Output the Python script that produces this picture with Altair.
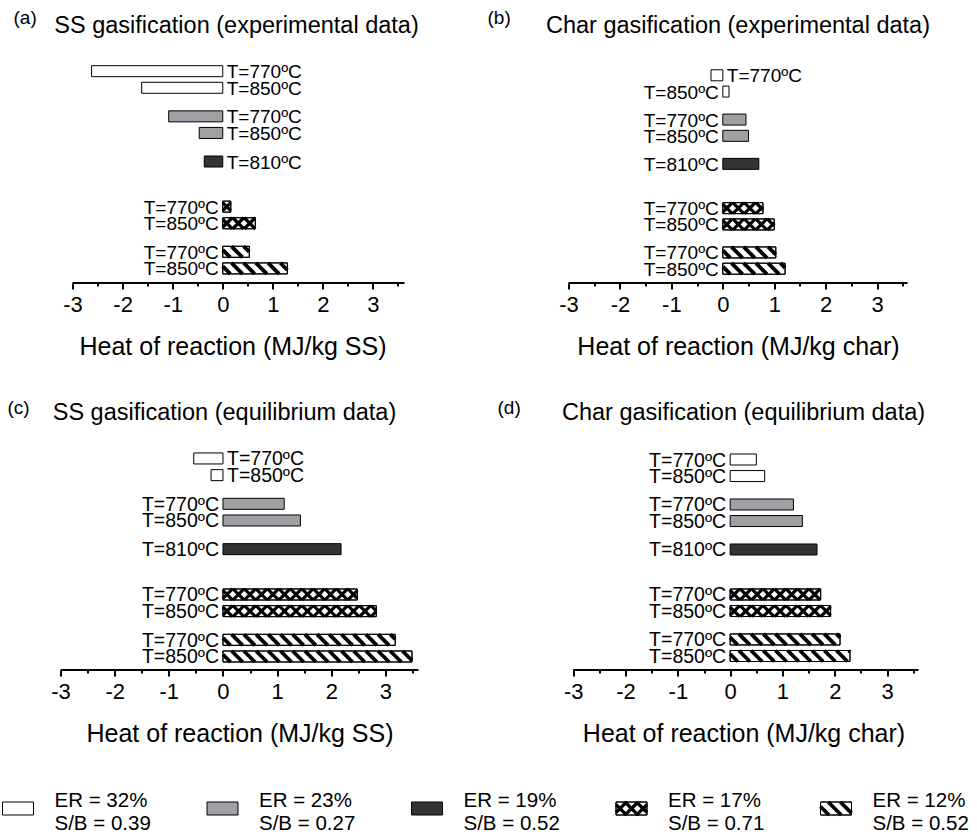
import math
import altair as alt
import pandas as pd

FONT = "Liberation Sans"

# ---------------- data ----------------
GROUPS = ["ER32", "ER23", "ER19", "ER17", "ER12"]
BAR_GROUP = ["ER32", "ER32", "ER23", "ER23", "ER19", "ER17", "ER17", "ER12", "ER12"]
BAR_TEMP = [770, 850, 770, 850, 810, 770, 850, 770, 850]

VAL_A = [-2.62, -1.62, -1.08, -0.47, -0.37, 0.16, 0.65, 0.53, 1.29]
VAL_B = [-0.23, 0.12, 0.45, 0.50, 0.70, 0.78, 1.00, 1.03, 1.21]
VAL_C = [-0.54, -0.22, 1.13, 1.43, 2.18, 2.48, 2.83, 3.18, 3.49]
VAL_D = [0.50, 0.66, 1.21, 1.38, 1.66, 1.73, 1.92, 2.10, 2.29]

TICKS = [-3, -2.5, -2, -1.5, -1, -0.5, 0, 0.5, 1, 1.5, 2, 2.5, 3, 3.5]

LEG_ER = ["32%", "23%", "19%", "17%", "12%"]
LEG_SB = ["0.39", "0.27", "0.52", "0.71", "0.52"]

# ---------------- styles / layout ----------------
FILL = ["#ffffff", "#a0a0a4", "#333333", "#ffffff", "#ffffff"]
PATTERN = {
    "ER17": dict(dirs=(1, -1), period=11.5, phase=4.0, w=3.2),
    "ER12": dict(dirs=(1,), period=12.2, phase=2.0, w=3.8),
}
H = 255
BAR_H = 11

# row positions (top = 0)
rows = []
r = 0.0
prev = None
for g in BAR_GROUP:
    if prev is None:
        r = 0.0
    elif g == prev:
        r += 1.0
    else:
        r += 1.72 + (1.0 if g == "ER17" else 0.0)
    rows.append(r)
    prev = g

PANELS = [
    dict(tag="(a)", title="SS gasification (experimental data)", unit="MJ/kg SS", vals=VAL_A,
         xdom=[-3.241, 3.63], ydom=[-2.602, 12.759], width=344, tag_x=-47, tag_y=-4, tdx=4, lfs=19),
    dict(tag="(b)", title="Char gasification (experimental data)", unit="MJ/kg char", vals=VAL_B,
         xdom=[-3.0, 3.59], ydom=[-2.905, 12.758], width=339, tag_x=-81, tag_y=-4, tdx=0, lfs=19),
    dict(tag="(c)", title="SS gasification (equilibrium data)", unit="MJ/kg SS", vals=VAL_C,
         xdom=[-3.0, 3.61], ydom=[-2.607, 12.69], width=358, tag_x=-53, tag_y=-1, tdx=-15, lfs=19.5),
    dict(tag="(d)", title="Char gasification (equilibrium data)", unit="MJ/kg char", vals=VAL_D,
         xdom=[-3.09, 3.60], ydom=[-2.691, 12.726], width=350, tag_x=-71, tag_y=-1, tdx=0, lfs=19.5),
]


def hatch_segments(L, h, period, phase, dirs):
    segs = []
    kmax = int((L + h) / period) + 3
    for d in dirs:
        for k in range(-3, kmax):
            c = phase + k * period
            if d > 0:
                lo, hi = max(-h / 2, -c), min(h / 2, L - c)
            else:
                lo, hi = max(-h / 2, c - L), min(h / 2, c)
            if hi - lo > 0.4:
                segs.append((d * lo + c, lo, d * hi + c, hi))
    return segs


def pattern_rows(group, x0, length_px, ppu, y0, ppr, h, sign=1.0):
    spec = PATTERN[group]
    out = []
    for (xa, ya, xb, yb) in hatch_segments(length_px, h, spec["period"], spec["phase"], spec["dirs"]):
        out.append({
            "x": x0 + sign * xa / ppu, "x2": x0 + sign * xb / ppu,
            "y": y0 + ya / ppr, "y2": y0 + yb / ppr, "w": spec["w"],
        })
    return out


fill_scale = alt.Scale(domain=GROUPS, range=FILL)


def make_panel(p):
    W = p["width"]
    xs = alt.Scale(domain=p["xdom"], nice=False, zero=False, padding=0)
    ys = alt.Scale(domain=p["ydom"], nice=False, zero=False, reverse=True, padding=0)
    ppu = W / (p["xdom"][1] - p["xdom"][0])
    ppr = H / (p["ydom"][1] - p["ydom"][0])

    ax = alt.Axis(
        values=TICKS,
        labelExpr="datum.value % 1 === 0 ? '' + datum.value : ''",
        tickSize={"condition": {"test": "datum.value % 1 !== 0", "value": 3}, "value": 6},
        tickWidth=2, tickColor="black", domain=False, grid=False,
        labelFont=FONT, labelFontSize=22, labelColor="black", labelPadding=5,
        labelOverlap=False, labelFlush=False,
        title="Heat of reaction (%s)" % p["unit"], titleFont=FONT, titleFontSize=25,
        titleFontWeight="normal", titleColor="black", titlePadding=19,
    )

    def X(f):
        return alt.X(f, type="quantitative", scale=xs, axis=ax)

    def Y(f):
        return alt.Y(f, type="quantitative", scale=ys, axis=None)

    df = pd.DataFrame({
        "row": rows, "value": p["vals"], "group": BAR_GROUP,
        "label": ["T=%d\u00baC" % t for t in BAR_TEMP],
    })
    df["zero"] = 0.0

    pats = []
    for rr, v, g in zip(rows, p["vals"], BAR_GROUP):
        if g in PATTERN:
            pats += pattern_rows(g, 0.0, abs(v) * ppu, ppu, rr, ppr, BAR_H, 1.0 if v >= 0 else -1.0)
    dpat = pd.DataFrame(pats)

    bars = alt.Chart(df).mark_bar(size=BAR_H, stroke="black", strokeWidth=1).encode(
        x=X("value"), x2="zero", y=Y("row"),
        fill=alt.Fill("group:N", scale=fill_scale, legend=None),
    )
    hatch = alt.Chart(dpat).mark_rule(color="black").encode(
        x=X("x"), x2="x2", y=Y("y"), y2="y2",
        strokeWidth=alt.StrokeWidth("w:Q", scale=None),
    )
    outline = alt.Chart(df).transform_filter(
        "datum.group == 'ER17' || datum.group == 'ER12'"
    ).mark_bar(size=BAR_H, stroke="black", strokeWidth=1, fillOpacity=0).encode(
        x=X("value"), x2="zero", y=Y("row"),
    )
    lab_neg = alt.Chart(df).transform_filter("datum.value < 0").mark_text(
        align="left", baseline="middle", dx=4, dy=1, font=FONT, fontSize=p["lfs"], color="black"
    ).encode(x=X("zero"), y=Y("row"), text="label:N")
    lab_pos = alt.Chart(df).transform_filter("datum.value >= 0").mark_text(
        align="right", baseline="middle", dx=-4, dy=1, font=FONT, fontSize=p["lfs"], color="black"
    ).encode(x=X("zero"), y=Y("row"), text="label:N")

    base = alt.Chart(pd.DataFrame({"x0": [-3.0], "x1": [p["xdom"][1]], "y0": [p["ydom"][1]]})).mark_rule(
        color="black", strokeWidth=2
    ).encode(x=X("x0"), x2="x1", y=Y("y0"))

    tag = alt.Chart(pd.DataFrame({"t": [p["tag"]]})).mark_text(
        align="left", baseline="alphabetic", font=FONT, fontSize=19, color="black"
    ).encode(x=alt.value(p["tag_x"]), y=alt.value(p["tag_y"]), text="t:N")

    ttl = alt.Chart(pd.DataFrame({"t": [p["title"]]})).mark_text(
        align="center", baseline="alphabetic", font=FONT, fontSize=23.5, color="black"
    ).encode(x=alt.value(W / 2 + p["tdx"]), y=alt.value(5), text="t:N")

    return alt.layer(bars, hatch, outline, lab_neg, lab_pos, base, tag, ttl).properties(
        width=W, height=H,
    )


# ---------------- legend ----------------
LPPU = 204.5
LW = 358
SW = 31
LH = 13
d0 = 58.0 / LPPU
lxs = alt.Scale(domain=[d0, d0 + LW / LPPU], nice=False, zero=False, padding=0)
lys = alt.Scale(domain=[0, 1], nice=False, zero=False, reverse=True, padding=0)

ldf = pd.DataFrame({
    "i": [float(k) for k in range(len(GROUPS))],
    "group": GROUPS,
    "label": ["ER = %s\nS/B = %s" % (e, s) for e, s in zip(LEG_ER, LEG_SB)],
})
ldf["i2"] = ldf["i"] + SW / LPPU
ldf["y0"] = 0.0
ldf["y1"] = 1.0

lpats = []
for k, g in enumerate(GROUPS):
    if g in PATTERN:
        lpats += pattern_rows(g, float(k), SW, LPPU, 0.5, LH, LH)
lpat = pd.DataFrame(lpats)


def LX(f):
    return alt.X(f, type="quantitative", scale=lxs, axis=None)


def LY(f):
    return alt.Y(f, type="quantitative", scale=lys, axis=None)


leg_rect = alt.Chart(ldf).mark_rect(stroke="black", strokeWidth=1).encode(
    x=LX("i"), x2="i2", y=LY("y0"), y2="y1",
    fill=alt.Fill("group:N", scale=fill_scale, legend=None),
)
leg_hatch = alt.Chart(lpat).mark_rule(color="black").encode(
    x=LX("x"), x2="x2", y=LY("y"), y2="y2", strokeWidth=alt.StrokeWidth("w:Q", scale=None)
)
leg_outline = alt.Chart(ldf).transform_filter(
    "datum.group == 'ER17' || datum.group == 'ER12'"
).mark_rect(stroke="black", strokeWidth=1, fillOpacity=0).encode(
    x=LX("i"), x2="i2", y=LY("y0"), y2="y1"
)
leg_text = alt.Chart(ldf).mark_text(
    align="left", baseline="alphabetic", dx=52, dy=5, font=FONT, fontSize=20.5,
    lineHeight=23, lineBreak="\n", color="black"
).encode(x=LX("i"), y=LY("y0"), text="label:N")

legend = alt.layer(leg_rect, leg_hatch, leg_outline, leg_text).properties(width=LW, height=LH)

panels = [make_panel(p) for p in PANELS]

chart = alt.concat(
    *panels, legend, columns=2, spacing={"row": 132, "column": 150}, bounds="flush"
).properties(
    padding={"left": 1.5, "top": 9, "right": 2, "bottom": 0}
).configure(font=FONT).configure_view(strokeWidth=0, stroke=None)

chart.save("out.html", embed_options={"renderer": "svg", "actions": False})
